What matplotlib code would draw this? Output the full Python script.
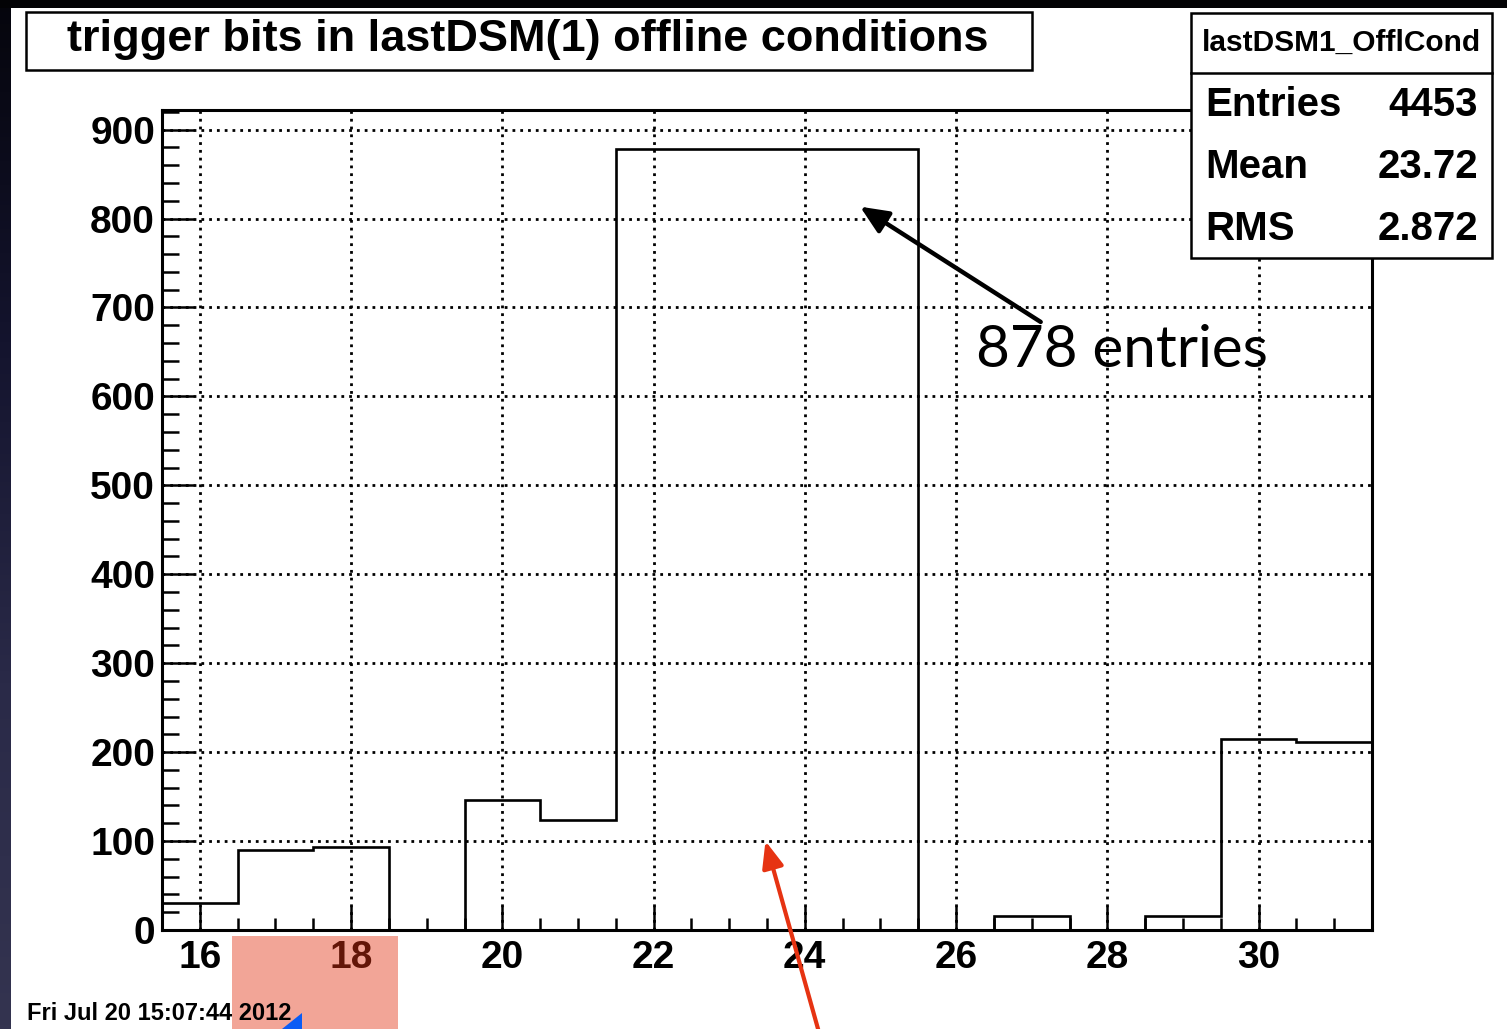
import numpy as np
import matplotlib
matplotlib.use('Agg')
import matplotlib.pyplot as plt
from matplotlib.patches import Rectangle, Polygon

# histogram data (bins of width 1 centred on integers 16..31)
bin_edges = np.arange(15.5, 32.0, 1.0)
counts = [30, 90, 93, 0, 146, 124, 878, 878, 878, 878, 0, 16, 0, 16, 215, 211]
x_ticks = [16, 18, 20, 22, 24, 26, 28, 30]
y_ticks = [0, 100, 200, 300, 400, 500, 600, 700, 800, 900]

title = 'trigger bits in lastDSM(1) offline conditions'
stat_name = 'lastDSM1_OfflCond'
stat_rows = [('Entries', '4453'), ('Mean', '23.72'), ('RMS', '2.872')]
date_str = 'Fri Jul 20 15:07:44 '
date_year = '2012'

W, H = 1507, 1029
plt.rcParams['font.family'] = ['Liberation Sans', 'DejaVu Sans']
fig = plt.figure(figsize=(W / 100, H / 100), dpi=100)
fig.patch.set_facecolor('white')

# dark slide background: strip on the left and top
bg = fig.add_axes([0, 0, 1, 1], zorder=-10)
bg.set_xlim(0, W)
bg.set_ylim(H, 0)
bg.axis('off')
grad = np.linspace(0, 1, 256).reshape(-1, 1)
cmap = matplotlib.colors.LinearSegmentedColormap.from_list('slide', ['#05050c', '#14142e', '#2a2a48', '#343450'])
bg.imshow(grad, cmap=cmap, extent=(0, 11, H, 0), aspect='auto')
bg.add_patch(Rectangle((0, 0), W, 8, color='#030305', lw=0))

# main histogram axes
ax = fig.add_axes([162 / W, 1 - 930 / H, (1372 - 162) / W, (930 - 110) / H])
ax.stairs(counts, bin_edges, color='black', lw=1.9, zorder=3)
ax.set_xlim(15.5, 31.5)
ax.set_ylim(0, 922)
ax.set_xticks(x_ticks)
ax.set_yticks(y_ticks)
ax.set_xticks(np.arange(15.5, 31.6, 0.5), minor=True)
ax.set_yticks(np.arange(0, 921, 20), minor=True)
ax.grid(True, which='major', color='black', lw=2.0, linestyle=(0, (1, 1.8)))
ax.set_axisbelow(True)
for s in ax.spines.values():
    s.set_linewidth(2.2)
ax.tick_params(axis='x', which='major', direction='in', length=17, width=1.8, pad=7, labelsize=28)
ax.tick_params(axis='x', which='minor', direction='in', length=8.6, width=1.8)
ax.tick_params(axis='y', which='major', direction='in', length=23, width=1.8, pad=5, labelsize=28)
ax.tick_params(axis='y', which='minor', direction='in', length=12, width=1.8)
for lab in ax.get_xticklabels() + ax.get_yticklabels():
    lab.set_fontweight('bold')

# arrows and annotation text
ax.annotate('', xy=(24.7, 815), xytext=(27.15, 682),
            arrowprops=dict(arrowstyle='-|>,head_length=1.7,head_width=0.75', color='black', lw=3.2),
            zorder=6, annotation_clip=False)
ax.text(28.2, 652, '878 entries', fontsize=42, family=['Lato', 'DejaVu Sans'],
        ha='center', va='center', zorder=5)
ax.annotate('', xy=(23.47, 103), xytext=(24.22, -125),
            arrowprops=dict(arrowstyle='-|>,head_length=1.6,head_width=0.65', color='#e63312', lw=3.0),
            zorder=6, annotation_clip=False)

# overlay in pixel coordinates for boxes and labels
ov = fig.add_axes([0, 0, 1, 1], zorder=10)
ov.set_xlim(0, W)
ov.set_ylim(H, 0)
ov.axis('off')

ov.add_patch(Rectangle((26, 12), 1006, 58, fill=False, ec='black', lw=1.8))
ov.text(528, 40, title, fontsize=32.5, fontweight='bold', ha='center', va='center')

ov.add_patch(Rectangle((1191, 13), 301, 245, fc='white', ec='black', lw=1.8))
ov.plot([1191, 1492], [73, 73], color='black', lw=1.8)
ov.text(1341, 43, stat_name, fontsize=21.5, fontweight='bold', ha='center', va='center')
for i, (k, v) in enumerate(stat_rows):
    yy = 105 + i * 62
    ov.text(1205, yy, k, fontsize=29, fontweight='bold', ha='left', va='center')
    ov.text(1478, yy, v, fontsize=29, fontweight='bold', ha='right', va='center')

ov.text(27, 1014, date_str + date_year, fontsize=17, fontweight='bold', ha='left', va='center')

# highlight box (semi transparent) and blue arrow head at the bottom
ov.add_patch(Rectangle((232, 936), 166, 95, fc='#e23414', alpha=0.44, lw=0))
ov.add_patch(Polygon([[282, 1029], [302, 1013], [302, 1029]], closed=True, fc='#0a5cf5', lw=0))

fig.savefig('out.png', dpi=100, facecolor=fig.get_facecolor())
